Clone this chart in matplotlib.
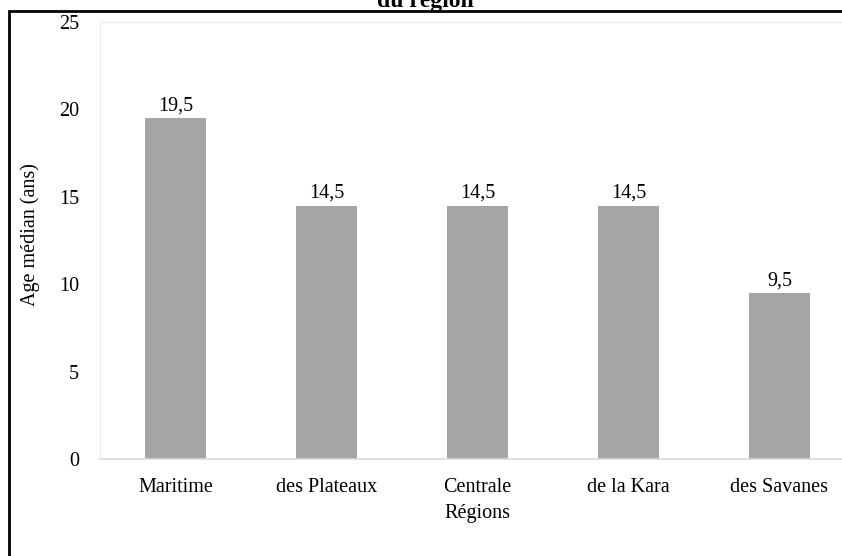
import matplotlib
matplotlib.use("Agg")
import matplotlib.pyplot as plt
from matplotlib.patches import Rectangle

regions = ["Maritime", "des Plateaux", "Centrale", "de la Kara", "des Savanes"]
ages = [19.5, 14.5, 14.5, 14.5, 9.5]
labels = ["19,5", "14,5", "14,5", "14,5", "9,5"]
yticks = [0, 5, 10, 15, 20, 25]

plt.rcParams['font.family'] = ['Liberation Serif', 'DejaVu Serif']

W, H = 842, 556
fig = plt.figure(figsize=(W / 100, H / 100), dpi=100)

# outer frame (extends past right/bottom edges)
fig.patches.append(Rectangle((9 / W, -0.05), 1.1, 1 - 11 / H + 0.05,
                             transform=fig.transFigure, fill=False,
                             edgecolor='black', linewidth=2, zorder=0))

# clipped title
fig.text(425 / W, 1 - 7 / H, "du région", ha='center', va='baseline',
         fontsize=17, fontweight='bold')

left, right = 100, 855
top, bottom = 22, 459
ax = fig.add_axes([left / W, 1 - bottom / H, (right - left) / W, (bottom - top) / H])

FS = 14.5
x = range(len(regions))
bars = ax.bar(x, ages, width=0.41, color='#A5A5A5', zorder=2)
for xi, v, lab in zip(x, ages, labels):
    ax.annotate(lab, (xi, v), xytext=(0, 2), textcoords='offset points',
                ha='center', va='bottom', fontsize=FS)

ax.set_xlim(-0.5, len(regions) - 0.5)
ax.set_ylim(0, 25)
ax.set_yticks(yticks)
ax.set_yticklabels([str(t) for t in yticks], fontsize=FS)
ax.set_xticks(list(x))
ax.set_xticklabels(regions, fontsize=FS)
ax.tick_params(axis='both', length=0)
ax.tick_params(axis='y', pad=15)
ax.tick_params(axis='x', pad=14)
for s in ['top', 'left', 'right']:
    ax.spines[s].set_color('#EEEEEE')
    ax.spines[s].set_linewidth(1)
ax.spines['bottom'].set_color('#D9D9D9')
ax.spines['bottom'].set_linewidth(1.2)

ax.set_ylabel("Age médian (ans)", fontsize=FS)
ax.yaxis.set_label_coords(-(100 - 40) / (right - left), 0.513)
ax.set_xlabel("Régions", fontsize=FS, labelpad=5)

fig.savefig("out.png", dpi=100)
